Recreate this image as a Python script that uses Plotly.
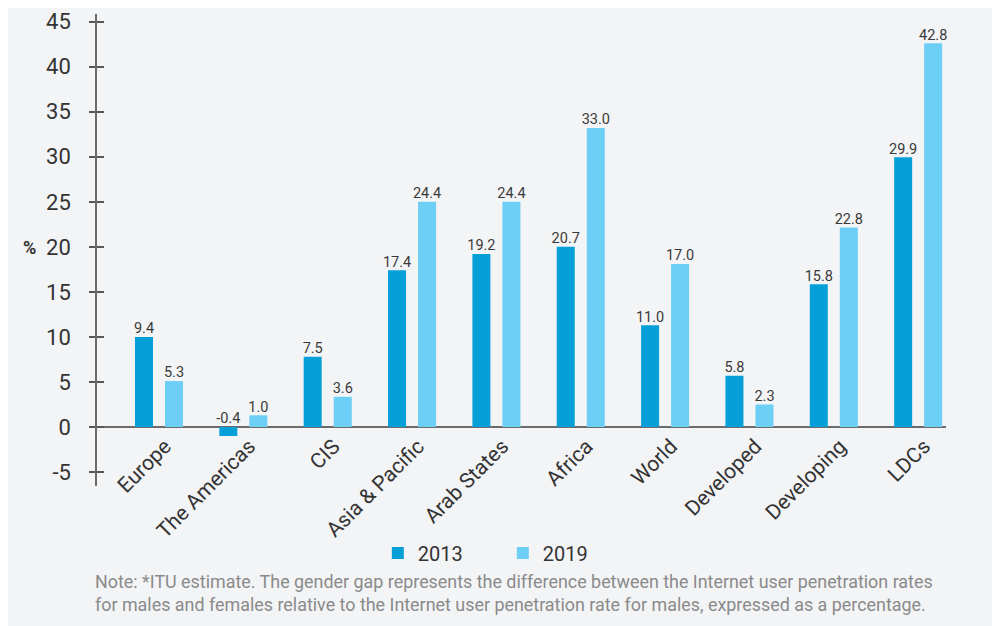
import plotly.graph_objects as go

categories = ["Europe", "The Americas", "CIS", "Asia & Pacific", "Arab States",
              "Africa", "World", "Developed", "Developing", "LDCs"]
values_2013 = [10.0, -1.0, 7.8, 17.4, 19.2, 20.0, 11.3, 5.7, 15.85, 29.95]
values_2019 = [5.1, 1.3, 3.35, 25.0, 25.0, 33.2, 18.1, 2.5, 22.15, 42.6]
labels_2013 = ["9.4", "-0.4", "7.5", "17.4", "19.2", "20.7", "11.0", "5.8", "15.8", "29.9"]
labels_2019 = ["5.3", "1.0", "3.6", "24.4", "24.4", "33.0", "17.0", "2.3", "22.8", "42.8"]
series_names = ["2013", "2019"]
y_ticks = [-5, 0, 5, 10, 15, 20, 25, 30, 35, 40, 45]
y_ticktext = ["-5", "0", "5", "10", "15", "20", "25", "30", "35", "40", "45"]

C13 = "#069fd8"
C19 = "#6dcff6"
BG = "#f3f4f6"
FONT = "Roboto"

idx = list(range(len(categories)))
half = 0.178
bw = 0.2135

fig = go.Figure()
for vals, labs, name, col, sign in [(values_2013, labels_2013, series_names[0], C13, -1),
                                     (values_2019, labels_2019, series_names[1], C19, 1)]:
    xs = [i + sign * half for i in idx]
    fig.add_trace(go.Bar(x=xs, y=vals, width=bw, name=name, marker=dict(color=col, line=dict(width=0)),
                         hoverinfo="y"))
    fig.add_trace(go.Scatter(x=xs, y=[max(v, 0) for v in vals], mode="text", text=labs,
                             textposition="top center", showlegend=False, hoverinfo="skip",
                             cliponaxis=False,
                             textfont=dict(family=FONT, size=14.5, color="#3a3a3a")))

# page body has an 8px margin: figure occupies screen x 8..1000, y 8..626
fig.update_layout(
    width=992, height=618,
    margin=dict(l=89, r=54, t=6, b=140, autoexpand=False),
    paper_bgcolor=BG, plot_bgcolor=BG,
    barmode="overlay",
    font=dict(family=FONT, color="#333333"),
    xaxis=dict(range=[-0.735, 9.33], tickmode="array", tickvals=idx, ticktext=categories,
               tickangle=-45, showgrid=False, zeroline=False, showline=False, ticks="",
               anchor="free", position=(486 - 427) / 472, ticklabelshift=6, ticklabelstandoff=2,
               tickfont=dict(family=FONT, size=21, color="#333333")),
    yaxis=dict(range=[-6.55, 45.85], tickmode="array", tickvals=y_ticks, ticktext=y_ticktext,
               showgrid=False,
               zeroline=True, zerolinecolor="#6b6b6b", zerolinewidth=1.5,
               showline=True, linecolor="#6b6b6b", linewidth=1.5,
               ticks="outside", ticklen=6, tickwidth=1.5, tickcolor="#555555",
               ticklabelstandoff=14,
               tickfont=dict(family=FONT, size=22, color="#333333")),
    yaxis2=dict(range=[-6.55, 45.85], overlaying="y", side="left", tickmode="array",
                tickvals=y_ticks, showticklabels=False, showgrid=False, zeroline=False,
                showline=False, ticks="inside", ticklen=7, tickwidth=1.5, tickcolor="#555555"),
    legend=dict(orientation="h", x=0.478, xanchor="center", y=-0.142, yanchor="middle",
                font=dict(family=FONT, size=20, color="#333333"), bgcolor="rgba(0,0,0,0)",
                itemwidth=30, entrywidth=80, traceorder="normal"),
    showlegend=True,
)
fig.add_trace(go.Scatter(x=[None], y=[None], yaxis="y2", showlegend=False, hoverinfo="skip"))

fig.add_annotation(text="<b>%</b>", xref="paper", yref="paper", x=(29 - 97) / 849, y=(486 - 247) / 472,
                   showarrow=False, font=dict(family=FONT, size=18, color="#333333"),
                   xanchor="center", yanchor="middle")
fig.add_annotation(
    text="Note: *ITU estimate. The gender gap represents the difference between the Internet user penetration rates<br>"
         "for males and females relative to the Internet user penetration rate for males, expressed as a percentage.",
    xref="paper", yref="paper", x=(93 - 97) / 849, y=(486 - 593) / 472, xanchor="left", yanchor="middle",
    align="left", showarrow=False, font=dict(family=FONT, size=17.9, color="#8a8a8a"))

fig.write_html("out.html")
